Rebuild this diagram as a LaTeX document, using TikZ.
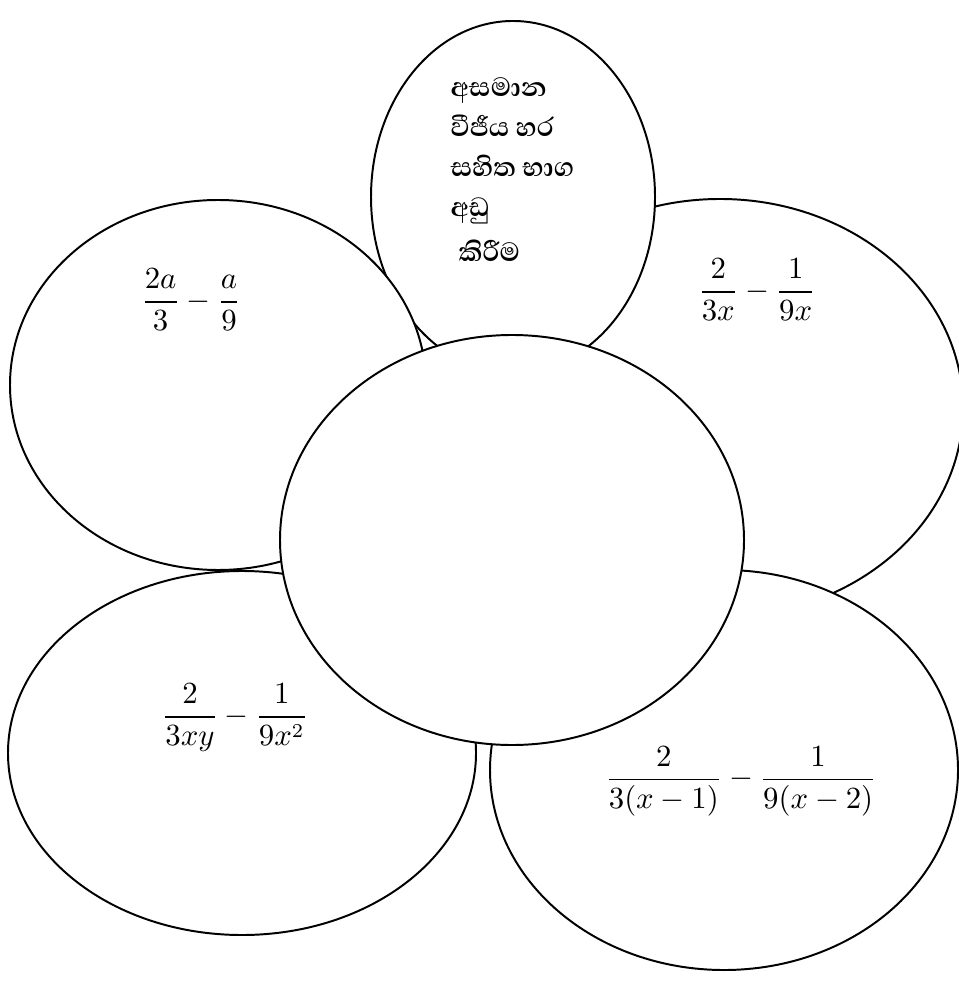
\documentclass[tikz,border=0pt]{standalone}
\usepackage{amsmath}
\usepackage{fontspec}
\newfontfamily\sinfont[Script=Sinhala]{Abhaya Libre}
\usetikzlibrary{shapes.geometric}

\begin{document}
\begin{tikzpicture}[x=0.125mm, y=-0.125mm,
            petal/.style={ellipse, draw, line width=0.7pt, fill=white, inner sep=0pt},
            expr/.style={inner sep=0pt, font=\fontsize{10.5}{12.6}\selectfont}]

            \useasboundingbox (0,0) rectangle (958,998);

            % petals, back to front
            \node[petal, minimum width=60.75mm, minimum height=52.25mm] (R) at (720,408) {};
            \node[petal, minimum width=35.5mm, minimum height=44mm] (T) at (513,197) {};
            \node[petal, minimum width=52mm, minimum height=46.25mm] (L) at (218,385) {};
            \node[petal, minimum width=58.5mm, minimum height=45.5mm] (BL) at (242,753) {};
            \node[petal, minimum width=58.5mm, minimum height=50mm] (BR) at (724,770) {};
            \node[petal, minimum width=58mm, minimum height=51.25mm] (C) at (512,540) {};

            \node[anchor=north west, align=left, inner sep=0pt, font=\sinfont\bfseries\fontsize{12}{14.2}\selectfont] (title) at (450,77)
                {අසමාන\\වීජීය හර\\සහිත භාග\\අඩු\\[2pt]\hspace*{1mm}කිරීම};

            \node[expr] (fL) at (191,300) {$\dfrac{2a}{3}-\dfrac{a}{9}$};
            \node[expr] (fR) at (757,290) {$\dfrac{2}{3x}-\dfrac{1}{9x}$};
            \node[expr] (fBL) at (235,718) {$\dfrac{2}{3xy}-\dfrac{1}{9x^2}$};
            \node[expr] (fBR) at (741,781) {$\dfrac{2}{3(x-1)}-\dfrac{1}{9(x-2)}$};
\end{tikzpicture}
\end{document}
